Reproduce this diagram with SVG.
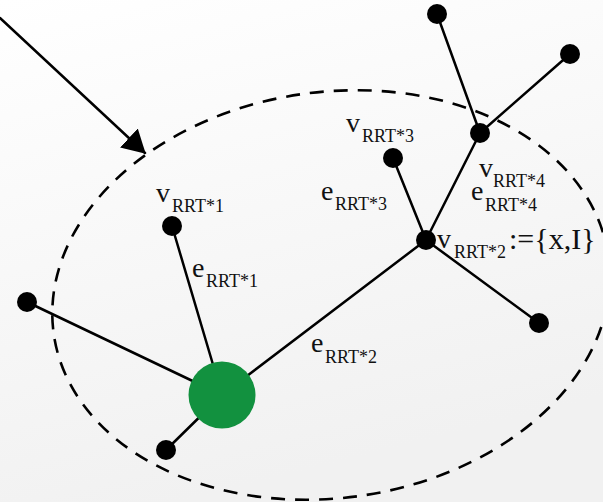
<svg xmlns="http://www.w3.org/2000/svg" width="603" height="502" viewBox="0 0 603 502">
  <defs>
    <linearGradient id="bg" x1="0" y1="0" x2="0.3" y2="1">
      <stop offset="0" stop-color="#ffffff"/>
      <stop offset="1" stop-color="#f1f1f1"/>
    </linearGradient>
    <marker id="arrowhead" viewBox="0 0 24 26" refX="22" refY="13" markerWidth="24" markerHeight="26" markerUnits="userSpaceOnUse" orient="auto">
      <path d="M0,0 L23,13 L0,26 Z" fill="#000"/>
    </marker>
  </defs>
  <style>
    .edge { stroke: #000; stroke-width: 2.5; fill: none; stroke-linecap: round; }
    .range { stroke: #000; stroke-width: 2.6; fill: none; stroke-dasharray: 14 10; }
    .vertex { fill: #000; }
    .root { fill: #12913f; }
    .lbl { font-family: "Liberation Serif", "Times New Roman", serif; font-size: 28px; fill: #111; }
    .sub { font-size: 18px; }
  </style>

  <rect x="0" y="0" width="603" height="502" fill="url(#bg)"/>

  <!-- neighbourhood boundary -->
  <ellipse class="range" cx="331" cy="295" rx="280" ry="203" transform="rotate(-8 331 295)"/>

  <!-- connectors -->
  <g id="connectors">
    <line class="edge" x1="0" y1="18" x2="145" y2="153" marker-end="url(#arrowhead)"/>
    <line class="edge" x1="222" y1="395" x2="27" y2="302"/>
    <line class="edge" x1="222" y1="395" x2="166" y2="450"/>
    <line class="edge" x1="222" y1="395" x2="172" y2="226"/>
    <line class="edge" x1="222" y1="395" x2="426" y2="240"/>
    <line class="edge" x1="426" y1="240" x2="393" y2="158"/>
    <line class="edge" x1="426" y1="240" x2="480" y2="133"/>
    <line class="edge" x1="426" y1="240" x2="539" y2="323"/>
    <line class="edge" x1="480" y1="133" x2="437" y2="14"/>
    <line class="edge" x1="480" y1="133" x2="570" y2="54"/>
  </g>

  <!-- nodes -->
  <g id="root"><circle class="root" cx="222" cy="395" r="33.5"/></g>
  <g id="leaf-left"><circle class="vertex" cx="27" cy="302" r="10"/></g>
  <g id="leaf-bottom"><circle class="vertex" cx="166" cy="450" r="10"/></g>
  <g id="v-rrt1"><circle class="vertex" cx="172" cy="226" r="10"/></g>
  <g id="v-rrt2"><circle class="vertex" cx="426" cy="240" r="10"/></g>
  <g id="v-rrt3"><circle class="vertex" cx="393" cy="158" r="10"/></g>
  <g id="v-rrt4"><circle class="vertex" cx="480" cy="133" r="10"/></g>
  <g id="leaf-top"><circle class="vertex" cx="437" cy="14" r="10"/></g>
  <g id="leaf-top-right"><circle class="vertex" cx="570" cy="54" r="10"/></g>
  <g id="leaf-right"><circle class="vertex" cx="539" cy="323" r="10"/></g>

  <!-- labels -->
  <g id="labels">
    <text class="lbl" x="156" y="202">v</text>
    <text class="lbl sub" x="172" y="212">RRT*1</text>
    <text class="lbl" x="192" y="277">e</text>
    <text class="lbl sub" x="206" y="287">RRT*1</text>
    <text class="lbl" x="346" y="132">v</text>
    <text class="lbl sub" x="362" y="142">RRT*3</text>
    <text class="lbl" x="321" y="200">e</text>
    <text class="lbl sub" x="335" y="210">RRT*3</text>
    <text class="lbl" x="479" y="177">v</text>
    <text class="lbl sub" x="493" y="187">RRT*4</text>
    <text class="lbl" x="471" y="200">e</text>
    <text class="lbl sub" x="485" y="211">RRT*4</text>
    <text class="lbl" x="437" y="248">v</text>
    <text class="lbl sub" x="454" y="258">RRT*2</text>
    <text class="lbl" x="509" y="249" style="font-size:30px">:={x,I}</text>
    <text class="lbl" x="311" y="352">e</text>
    <text class="lbl sub" x="325" y="363">RRT*2</text>
  </g>
</svg>
